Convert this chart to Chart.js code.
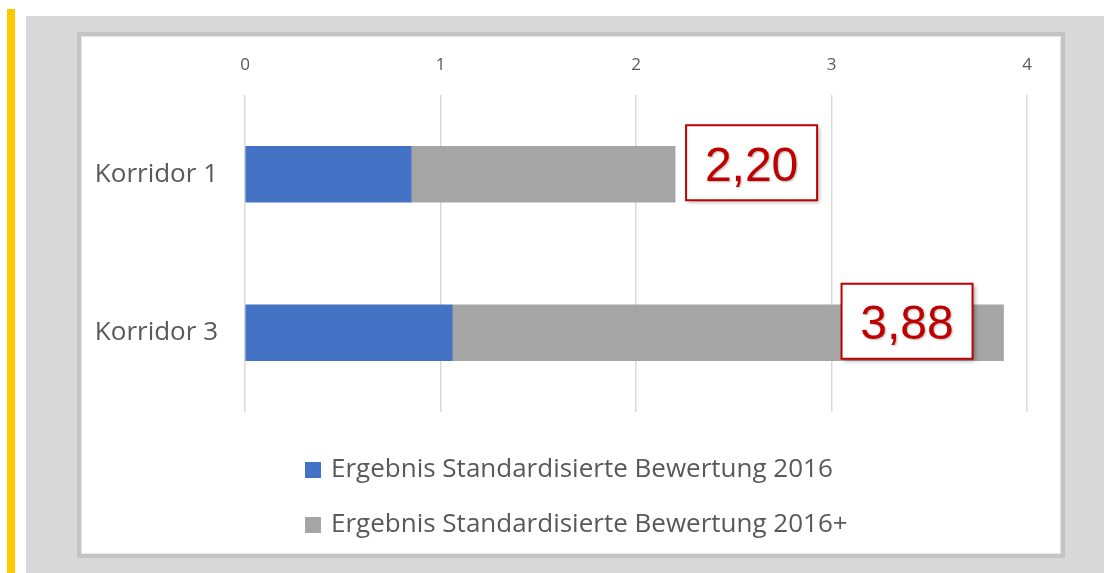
<!DOCTYPE html>
<html>
<head>
<meta charset="utf-8">
<script src="https://cdn.jsdelivr.net/npm/chart.js@4.4.1/dist/chart.umd.min.js"></script>
<style>
    html, body {
        margin: 0;
        padding: 0;
        width: 1104px;
        height: 573px;
        background: #ffffff;
        overflow: hidden;
        font-family: "Open Sans", sans-serif;
    }
    #yellowBar {
        position: absolute;
        left: 7px;
        top: 9px;
        width: 8px;
        height: 564px;
        background: #ffc800;
    }
    #greyBack {
        position: absolute;
        left: 26px;
        top: 16px;
        right: 0;
        bottom: 0;
        background: #d8d8d8;
    }
    #panel {
        position: absolute;
        left: 77px;
        top: 32px;
        width: 980px;
        height: 518px;
        background: #ffffff;
        border: 4px solid #c4c4c4;
        box-shadow: inset 0 0 0 1px #e6e6e6;
    }
    #chartBox {
        position: absolute;
        left: 0;
        top: 0;
        width: 1104px;
        height: 573px;
    }
    #legend {
        position: absolute;
        left: 305px;
        top: 452px;
        color: #595959;
        font-size: 26px;
    }
    #legend .item {
        height: 30px;
        line-height: 30px;
        margin-bottom: 25px;
        white-space: nowrap;
    }
    #legend .box {
        display: inline-block;
        width: 16px;
        height: 16px;
        margin-right: 10px;
        vertical-align: -1px;
    }
</style>
</head>
<body>
<div id="yellowBar"></div>
<div id="greyBack"></div>
<div id="panel"></div>
<div id="chartBox"><canvas id="chart" width="1104" height="573"></canvas></div>
<div id="legend"></div>

<script>
// Chart data
const categories = ['Korridor 1', 'Korridor 3'];
const seriesNames = [
    'Ergebnis Standardisierte Bewertung 2016',
    'Ergebnis Standardisierte Bewertung 2016+'
];
const values2016 = [0.85, 1.06];
const valuesPlus = [1.35, 2.82];
const totals = [2.20, 3.88];
const xTicks = [0, 1, 2, 3, 4];

const textColor = '#595959';
const gridColor = '#d9d9d9';

// Draws the red boxed totals next to / inside the bars
const totalBoxes = {
    id: 'totalBoxes',
    afterDatasetsDraw(chart) {
        const ctx = chart.ctx;
        const xScale = chart.scales.x;
        const yScale = chart.scales.y;
        const boxW = 131;
        const boxH = 75;
        totals.forEach((total, i) => {
            const endX = xScale.getPixelForValue(total);
            const midY = yScale.getPixelForValue(i);
            // first label sits right of the bar, second one inside it
            const left = i === 0 ? endX + 11 : endX - 31 - boxW;
            const top = midY - 49;

            ctx.save();
            ctx.shadowColor = 'rgba(0,0,0,0.35)';
            ctx.shadowBlur = 4;
            ctx.shadowOffsetX = 2;
            ctx.shadowOffsetY = 2;
            ctx.fillStyle = '#ffffff';
            ctx.fillRect(left, top, boxW, boxH);
            ctx.restore();

            ctx.save();
            ctx.strokeStyle = '#c00000';
            ctx.lineWidth = 2;
            ctx.strokeRect(left, top, boxW, boxH);
            ctx.font = '48px "Liberation Sans", Arial, sans-serif';
            ctx.textAlign = 'center';
            ctx.textBaseline = 'middle';
            ctx.shadowColor = 'rgba(0,0,0,0.3)';
            ctx.shadowBlur = 2;
            ctx.shadowOffsetX = 1;
            ctx.shadowOffsetY = 1;
            ctx.fillStyle = '#c00000';
            const label = total.toLocaleString('de-DE', { minimumFractionDigits: 2 });
            ctx.fillText(label, left + boxW / 2, top + boxH / 2 + 5);
            ctx.restore();
        });
    }
};

const chart = new Chart(document.getElementById('chart'), {
    type: 'bar',
    data: {
        labels: categories,
        datasets: [
            {
                label: seriesNames[0],
                data: values2016,
                backgroundColor: '#4472c4'
            },
            {
                label: seriesNames[1],
                data: valuesPlus,
                backgroundColor: '#a5a5a5'
            }
        ]
    },
    options: {
        indexAxis: 'y',
        responsive: false,
        animation: false,
        layout: {
            padding: { left: 0, right: 77, top: 40, bottom: 161 }
        },
        datasets: {
            bar: {
                barThickness: 56
            }
        },
        scales: {
            x: {
                position: 'top',
                stacked: true,
                min: 0,
                max: 4,
                afterBuildTicks(scale) {
                    scale.ticks = xTicks.map(v => ({ value: v }));
                },
                afterFit(scale) {
                    scale.height = 55;
                },
                grid: {
                    color: gridColor,
                    lineWidth: 1.5,
                    drawTicks: false
                },
                border: { display: false },
                ticks: {
                    color: textColor,
                    padding: 20,
                    font: { family: '"Open Sans", sans-serif', size: 17 }
                }
            },
            y: {
                stacked: true,
                afterFit(scale) {
                    scale.width = 245;
                },
                grid: { display: false, drawTicks: false },
                border: { display: false },
                ticks: {
                    color: textColor,
                    padding: 27,
                    font: { family: '"Open Sans", sans-serif', size: 26 }
                }
            }
        },
        plugins: {
            legend: { display: false },
            tooltip: { enabled: false }
        }
    },
    plugins: [totalBoxes]
});

// Legend drawn as HTML so both rows start at the same left edge
const legendEl = document.getElementById('legend');
chart.data.datasets.forEach(ds => {
    const item = document.createElement('div');
    item.className = 'item';
    const box = document.createElement('span');
    box.className = 'box';
    box.style.background = ds.backgroundColor;
    item.appendChild(box);
    item.appendChild(document.createTextNode(ds.label));
    legendEl.appendChild(item);
});
</script>
</body>
</html>
